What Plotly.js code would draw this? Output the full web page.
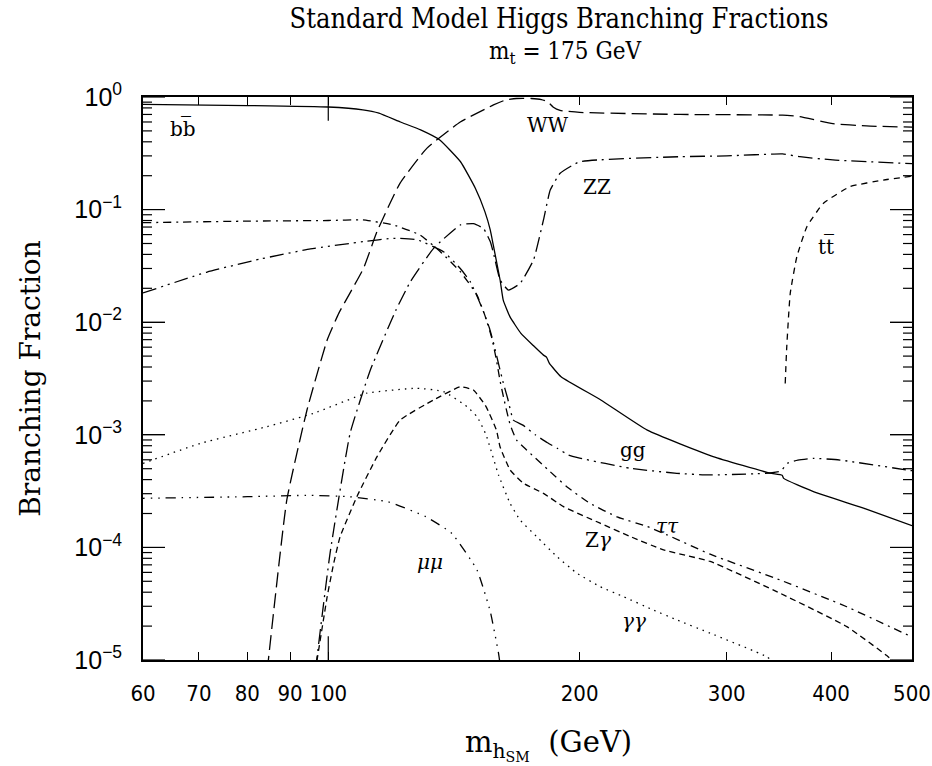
<!DOCTYPE html>
<html><head><meta charset="utf-8">
<script src="https://cdn.plot.ly/plotly-3.0.1.min.js"></script>
<style>html,body{margin:0;padding:0;background:#fff}#chart{width:932px;height:766px}</style>
</head><body><div id="chart"></div>
<script>
// ---- data (Higgs mass in GeV, branching fraction) ----
const massBB = [60, 80, 100, 110, 115, 122, 129, 136, 144, 150, 154, 156.3, 157.6, 160.6, 162, 165, 170, 176, 181, 182.5, 184, 190, 212, 241, 289, 338, 349.5, 351, 381, 440, 500];
const brBB   = [0.86, 0.84, 0.815, 0.77, 0.72, 0.60, 0.51, 0.415, 0.266, 0.155, 0.096, 0.066, 0.0485, 0.0237, 0.0157, 0.0112, 0.008, 0.0062, 0.0051, 0.0049, 0.0043, 0.00328, 0.00204, 0.0011, 6.4e-4, 4.57e-4, 4.38e-4, 4.1e-4, 3.13e-4, 2.2e-4, 1.56e-4];

const massWW = [84.5, 89.2, 94.3, 99.7, 103, 110.2, 114.4, 121.9, 131.2, 143.9, 157.7, 163, 168, 175, 180, 183, 186, 189.5, 200, 264, 350, 367, 402, 441, 500];
const brWW   = [8e-6, 2.64e-4, 1.66e-3, 6.95e-3, 0.0121, 0.0301, 0.064, 0.172, 0.35, 0.60, 0.85, 0.94, 0.97, 0.97, 0.95, 0.91, 0.81, 0.76, 0.73, 0.70, 0.69, 0.67, 0.58, 0.553, 0.54];

const massZZ = [96.5, 100.5, 106.2, 112.3, 120.5, 125.4, 133.7, 143.9, 149.2, 153.4, 156.3, 157.7, 160.6, 164.3, 169.7, 176.1, 181, 184.4, 189.5, 200, 264, 300, 350, 367, 402, 500];
const brZZ   = [8e-6, 8.9e-5, 1.03e-3, 3.76e-3, 0.0128, 0.0229, 0.0453, 0.073, 0.075, 0.068, 0.052, 0.041, 0.0237, 0.0193, 0.0221, 0.0357, 0.081, 0.149, 0.21, 0.266, 0.295, 0.30, 0.312, 0.295, 0.276, 0.256];

const massTT = [352.5, 354, 357.4, 364, 374.2, 391.7, 421.5, 462, 500];
const brTT   = [2.86e-3, 6.06e-3, 0.018, 0.0382, 0.0705, 0.114, 0.16, 0.183, 0.198];

const massTau = [60, 80, 100, 110, 119.7, 128.8, 136.2, 143.9, 150.7, 154, 157, 159, 160.6, 162.5, 165, 168, 172.9, 184.4, 193, 205.8, 221.6, 241, 254, 286.6, 347.7, 417.7, 500];
const brTau   = [0.0765, 0.079, 0.08, 0.081, 0.073, 0.0595, 0.0423, 0.0281, 0.0174, 0.0115, 0.0072, 0.0046, 0.0030, 0.0020, 0.00125, 9e-4, 7.3e-4, 4.7e-4, 3.46e-4, 2.46e-4, 1.87e-4, 1.53e-4, 1.3e-4, 8.7e-5, 5.13e-5, 2.97e-5, 1.6e-5];

const massGG = [60, 71.6, 82.9, 95.2, 110.2, 119.7, 127.7, 137.4, 143.9, 147.9, 151, 153.4, 156, 158, 160, 162, 164, 166.6, 171, 177, 183, 188, 194, 200, 230, 261.5, 285, 323, 340, 348, 355, 365, 381, 410, 493, 500];
const brGG   = [0.0182, 0.0279, 0.0364, 0.0447, 0.052, 0.0556, 0.054, 0.0423, 0.030, 0.0229, 0.0165, 0.0124, 0.0088, 0.0062, 0.0042, 0.0029, 0.0021, 0.00135, 0.00122, 1.0e-3, 8.5e-4, 7.6e-4, 6.6e-4, 6.2e-4, 5.04e-4, 4.55e-4, 4.4e-4, 4.5e-4, 4.6e-4, 4.75e-4, 5.6e-4, 5.95e-4, 6.18e-4, 5.97e-4, 4.87e-4, 4.8e-4];

const massZg = [96.5, 99.7, 101.5, 103.3, 108.2, 114.4, 121.9, 133.7, 143.9, 149.2, 154.5, 159, 160.6, 165.1, 171.3, 181, 191.3, 211.6, 229.9, 252, 286.6, 347.7, 417.7, 466, 490];
const brZg   = [8e-6, 3.65e-5, 7.2e-5, 1.24e-4, 2.82e-4, 6.4e-4, 1.35e-3, 2.04e-3, 2.67e-3, 2.5e-3, 1.78e-3, 1.1e-3, 7.8e-4, 4.87e-4, 3.71e-4, 3.02e-4, 2.3e-4, 1.64e-4, 1.25e-4, 9.5e-5, 7.5e-5, 3.91e-5, 1.98e-5, 1.1e-5, 8e-6];

const massGaGa = [60, 70.3, 84.4, 96, 111.2, 127.7, 137.4, 146.6, 150.7, 154.5, 159.9, 165.1, 169.7, 177.8, 187.8, 198.5, 211.6, 225.7, 245, 261.5, 286.6, 335, 345];
const brGaGa   = [5.58e-4, 8.4e-4, 1.18e-3, 1.55e-3, 2.34e-3, 2.59e-3, 2.42e-3, 1.78e-3, 1.45e-3, 1.0e-3, 4.4e-4, 2.46e-4, 1.75e-4, 1.24e-4, 8.3e-5, 5.9e-5, 4.48e-5, 3.65e-5, 2.78e-5, 2.27e-5, 1.73e-5, 1.07e-5, 9e-6];

const massMuMu = [60, 80, 95, 106, 118, 130.9, 140.6, 150.7, 156.3, 159.9, 161];
const brMuMu   = [2.73e-4, 2.82e-4, 2.9e-4, 2.82e-4, 2.54e-4, 1.87e-4, 1.33e-4, 6.3e-5, 2.7e-5, 1.15e-5, 8e-6];

// ---- ticks ----
const xTickVals = [60, 70, 80, 90, 100, 200, 300, 400, 500];
const xTickText = ['60', '70', '80', '90', '100', '200', '300', '400', '500'];
const yDecadeVals = [1e-5, 1e-4, 1e-3, 1e-2, 1e-1, 1];
const yDecadeText = ['10<sup>\u22125</sup>', '10<sup>\u22124</sup>', '10<sup>\u22123</sup>', '10<sup>\u22122</sup>', '10<sup>\u22121</sup>', '10<sup>0</sup>'];
const yMinorDigits = [2, 3, 4, 5, 6, 7, 8, 9];

// ---- curve labels ----
const curveLabels = ['b\u0062\u0305', 'WW', 'ZZ', 't\u0074\u0305', 'gg', '<i>\u03c4\u03c4</i>', 'Z<i>\u03b3</i>', '<i>\u03b3\u03b3</i>', '<i>\u03bc\u03bc</i>'];
const curveLabelPos = [[183, 128], [548, 125], [597, 187], [826, 246], [633, 450], [667, 526], [598, 540], [634, 621], [430, 562]];

(function drawChart() {
  const yMinorVals = [];
  yDecadeVals.slice(0, -1).forEach(d => yMinorDigits.forEach(k => yMinorVals.push(k * d)));

  function lineTrace(x, y, dash) {
    return {type: 'scatter', mode: 'lines', x: x, y: y, hoverinfo: 'skip',
            line: {color: 'black', width: 1.3, dash: dash, shape: 'spline', smoothing: 0.4}};
  }
  const traces = [
    lineTrace(massBB, brBB, 'solid'),
    lineTrace(massWW, brWW, '15px,6px'),
    lineTrace(massZZ, brZZ, '15px,5px,2px,5px'),
    lineTrace(massTT, brTT, '6px,5px'),
    lineTrace(massTau, brTau, '8px,5px,2px,5px'),
    lineTrace(massGG, brGG, '14px,5px,2px,5px,2px,5px'),
    lineTrace(massZg, brZg, '6px,4px'),
    lineTrace(massGaGa, brGaGa, '1.5px,5px'),
    lineTrace(massMuMu, brMuMu, '1.5px,6px,1.5px,6px,1.5px,6px,10px,6px')
  ];

  const plotLeft = 143, plotRight = 912, plotTop = 97, plotBottom = 660;
  const toPaperX = p => (p - plotLeft) / (plotRight - plotLeft);
  const toPaperY = p => (plotBottom - p) / (plotBottom - plotTop);
  const yMin = -5, yMax = 0;
  const valToPaperY = v => (Math.log10(v) - yMin) / (yMax - yMin);

  const annotations = curveLabels.map((t, i) => ({
    text: t, xref: 'paper', yref: 'paper',
    x: toPaperX(curveLabelPos[i][0]), y: toPaperY(curveLabelPos[i][1]),
    xanchor: 'center', yanchor: 'middle', showarrow: false,
    font: {family: 'DejaVu Serif, Liberation Serif, serif', size: 20, color: 'black'}
  }));
  annotations.push({
    text: 'm<sub>t</sub> = 175 GeV', xref: 'paper', yref: 'paper',
    x: toPaperX(565), y: toPaperY(52), xanchor: 'center', yanchor: 'middle', showarrow: false,
    font: {family: 'DejaVu Serif Condensed, DejaVu Serif, serif', size: 24, color: 'black'}
  });
  annotations.push({
    text: 'm<sub>h<sub>SM</sub></sub>  (GeV)', xref: 'paper', yref: 'paper',
    x: toPaperX(548), y: toPaperY(745), xanchor: 'center', yanchor: 'middle', showarrow: false,
    font: {family: 'DejaVu Serif, serif', size: 29, color: 'black'}
  });

  // y tick marks on both vertical edges (paper-referenced so no clipping applies)
  const w = plotRight - plotLeft;
  const majorLen = 22 / w, minorLen = 9 / w;
  const shapes = [];
  function hTick(v, len) {
    const yp = valToPaperY(v);
    shapes.push({type: 'line', xref: 'paper', yref: 'paper', x0: 0, x1: len, y0: yp, y1: yp, line: {color: 'black', width: 1.2}});
    shapes.push({type: 'line', xref: 'paper', yref: 'paper', x0: 1 - len, x1: 1, y0: yp, y1: yp, line: {color: 'black', width: 1.2}});
  }
  yDecadeVals.forEach(v => hTick(v, majorLen));
  yMinorVals.forEach(v => hTick(v, minorLen));
  // long tick at 100 GeV, bottom and top
  shapes.push({type: 'line', xref: 'x', yref: 'paper', x0: 100, x1: 100, y0: 0, y1: 0.042, line: {color: 'black', width: 1.2}});
  shapes.push({type: 'line', xref: 'x', yref: 'paper', x0: 100, x1: 100, y0: 0.958, y1: 1, line: {color: 'black', width: 1.2}});

  const layout = {
    width: 932, height: 766,
    margin: {l: plotLeft, r: 932 - plotRight, t: plotTop, b: 766 - plotBottom},
    paper_bgcolor: 'white', plot_bgcolor: 'white', showlegend: false,
    title: {text: 'Standard Model Higgs Branching Fractions', x: 559 / 932, xanchor: 'center',
            y: 1 - 19 / 766, yanchor: 'middle', xref: 'container', yref: 'container',
            font: {family: 'DejaVu Serif Condensed, DejaVu Serif, serif', size: 27, color: 'black'}},
    xaxis: {
      type: 'log', range: [Math.log10(60), Math.log10(500)],
      tickmode: 'array', tickvals: xTickVals, ticktext: xTickText,
      ticks: 'inside', ticklen: 8, tickwidth: 1.2, tickcolor: 'black',
      showline: true, linecolor: 'black', linewidth: 1.8, mirror: 'allticks',
      showgrid: false, zeroline: false, ticklabelstandoff: 13,
      tickfont: {family: 'DejaVu Sans Condensed, Liberation Sans Narrow, sans-serif', size: 22, color: 'black'}
    },
    yaxis: {
      type: 'log', range: [yMin, yMax],
      tickmode: 'array', tickvals: yDecadeVals, ticktext: yDecadeText,
      ticks: 'inside', ticklen: 22, tickwidth: 1.2, tickcolor: 'black',
      showline: true, linecolor: 'black', linewidth: 1.8, mirror: 'allticks',
      showgrid: false, zeroline: false, ticklabelstandoff: 14,
      tickfont: {family: 'Liberation Sans, Arial, sans-serif', size: 25, color: 'black'},
      title: {text: 'Branching Fraction', standoff: 26,
              font: {family: 'DejaVu Serif, serif', size: 28, color: 'black'}}
    },
    shapes: shapes,
    annotations: annotations
  };

  Plotly.newPlot('chart', traces, layout, {displayModeBar: false});
})();
</script>
</body></html>
